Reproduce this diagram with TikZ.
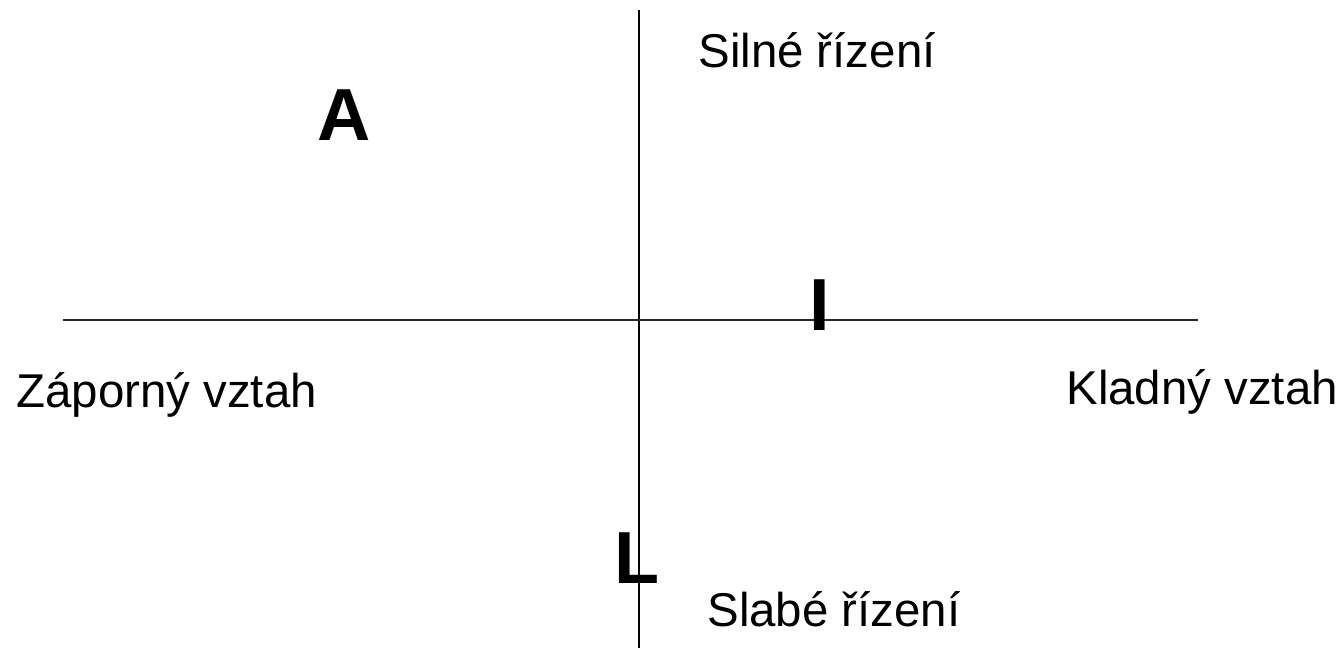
\documentclass[tikz,border=0pt]{standalone}
\usepackage{fontspec}
\setmainfont{Liberation Sans}
\usetikzlibrary{positioning}

\begin{document}
\begin{tikzpicture}[x=0.02cm,y=-0.02cm]
\tikzstyle{lab}=[inner sep=0pt,anchor=base west,font=\fontsize{27}{32}\selectfont]
\tikzstyle{big}=[inner sep=0pt,font=\fontsize{42}{50}\selectfont\bfseries]
\useasboundingbox (0,0) rectangle (1342,648);
% axes
\coordinate (top) at (639,10);
\coordinate (bot) at (639,648);
\coordinate (left) at (63,320);
\coordinate (right) at (1198,320);
\draw[line width=1.1pt] (top) -- (bot);
\draw[line width=1.1pt,black!85] (left) -- (right);
% axis labels
\node[lab] (strong) at (698,68) {Silné řízení};
\node[lab] (weak) at (707,626) {Slabé řízení};
\node[lab] (neg) at (16,408) {Záporný vztah};
\node[lab] (pos) at (1066,404) {Kladný vztah};
% letters
\node[big] (a) at (344,115) {A};
\node[big] (i) at (820,305) {I};
\node[big] (l) at (637,558) {L};
\end{tikzpicture}
\end{document}
